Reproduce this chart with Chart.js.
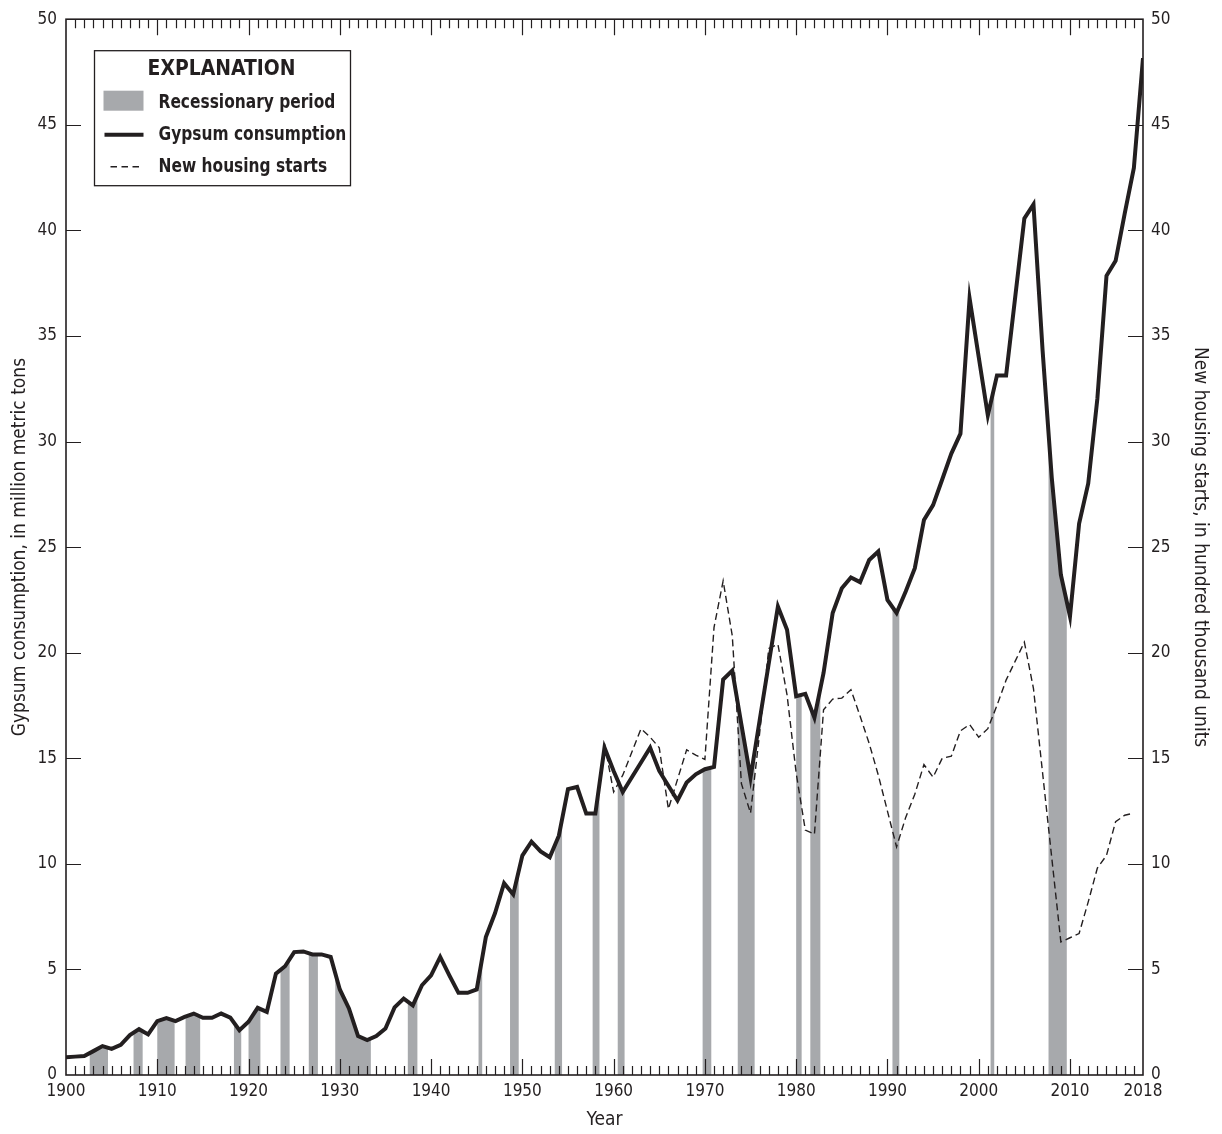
<!DOCTYPE html>
<html>
<head>
<meta charset="utf-8">
<script src="https://cdn.jsdelivr.net/npm/chart.js@4.4.0/dist/chart.umd.min.js"></script>
<style>
html,body{margin:0;padding:0;background:#fff;}
canvas{display:block;}
</style>
</head>
<body>
<canvas id="c" width="1222" height="1134"></canvas>
<script>
// ---------- DATA ----------
const gypsumYears = [
1900,1901,1902,1903,1904,1905,1906,1907,1908,1909,
1910,1911,1912,1913,1914,1915,1916,1917,1918,1919,
1920,1921,1922,1923,1924,1925,1926,1927,1928,1929,
1930,1931,1932,1933,1934,1935,1936,1937,1938,1939,
1940,1941,1942,1943,1944,1945,1946,1947,1948,1949,
1950,1951,1952,1953,1954,1955,1956,1957,1958,1959,
1960,1961,1962,1963,1964,1965,1966,1967,1968,1969,
1970,1971,1972,1973,1974,1975,1976,1977,1978,1979,
1980,1981,1982,1983,1984,1985,1986,1987,1988,1989,
1990,1991,1992,1993,1994,1995,1996,1997,1998,1999,
2000,2001,2002,2003,2004,2005,2006,2007,2008,2009,
2010,2011,2012,2013,2014,2015,2016,2017,2018];
// million metric tons
const gypsumConsumption = [
0.84,0.87,0.90,1.13,1.37,1.24,1.43,1.89,2.17,1.92,
2.55,2.69,2.55,2.75,2.91,2.71,2.71,2.91,2.72,2.12,
2.52,3.18,2.99,4.80,5.15,5.82,5.85,5.71,5.71,5.59,
4.05,3.15,1.84,1.65,1.84,2.20,3.20,3.62,3.30,4.25,
4.72,5.59,4.72,3.89,3.89,4.05,6.53,7.66,9.08,8.55,
10.39,11.05,10.59,10.31,11.33,13.54,13.64,12.38,12.38,15.50,
14.40,13.40,14.10,14.80,15.50,14.40,13.70,13.00,13.85,14.24,
14.48,14.59,18.73,19.15,16.60,14.09,16.80,19.50,22.19,21.09,
17.94,18.05,16.92,19.04,21.88,23.05,23.56,23.34,24.39,24.79,
22.50,21.88,22.90,24.00,26.28,26.99,28.20,29.43,30.37,36.78,
34.00,31.24,33.13,33.13,36.84,40.56,41.23,34.30,28.30,23.69,
21.72,26.12,28.01,32.03,37.85,38.56,40.80,42.96,48.16];

const housingYears = [
1959,1960,1961,1962,1963,1964,1965,1966,1967,1968,1969,
1970,1971,1972,1973,1974,1975,1976,1977,1978,1979,
1980,1981,1982,1983,1984,1985,1986,1987,1988,1989,
1990,1991,1992,1993,1994,1995,1996,1997,1998,1999,
2000,2001,2002,2003,2004,2005,2006,2007,2008,2009,
2010,2011,2012,2013,2014,2015,2016,2017];
// hundred thousand units
const housingStarts = [
15.69,13.40,14.20,15.30,16.40,16.00,15.50,12.60,14.00,15.40,15.15,
14.95,21.20,23.40,20.80,13.80,12.40,16.20,20.20,20.40,18.00,
14.30,11.60,11.40,17.30,17.80,17.85,18.25,17.00,15.70,14.20,
12.50,10.80,12.20,13.30,14.70,14.10,15.00,15.10,16.30,16.60,
16.00,16.40,17.50,18.70,19.60,20.50,18.30,14.30,10.30,6.30,
6.50,6.70,8.20,9.80,10.40,12.00,12.30,12.40];

// recessionary periods (decimal years)
const recessionStart = [1902.6,1907.4,1910.0,1913.1,1918.4,1920.0,1923.5,1926.6,1929.5,1937.45,1945.2,1948.65,1953.55,1957.7,1960.45,1969.75,1973.6,1980.0,1981.55,1990.55,2001.3,2007.65];
const recessionEnd   = [1904.6,1908.4,1911.9,1914.7,1919.2,1921.3,1924.5,1927.6,1933.4,1938.5,1945.6,1949.6,1954.35,1958.45,1961.2,1970.7,1975.45,1980.6,1982.65,1991.3,2001.7,2009.65];

const xTickLabels = [1900,1910,1920,1930,1940,1950,1960,1970,1980,1990,2000,2010,2018];

// ---------- STYLE ----------
const INK = '#231f20';
const GREY = '#a7a9ac';
const FAMILY = "'DejaVu Sans Condensed','Liberation Sans',sans-serif";
Chart.defaults.font.family = FAMILY;
Chart.defaults.color = INK;

const recessionPlugin = {
  id: 'recession',
  beforeDatasetsDraw(chart) {
    const {ctx, chartArea, scales} = chart;
    const x = scales.x, y = scales.y;
    const pts = chart.getDatasetMeta(0).data;
    const y0 = y.getPixelForValue(0);
    ctx.save();
    ctx.fillStyle = GREY;
    for (let i = 0; i < recessionStart.length; i++) {
      const xa = x.getPixelForValue(recessionStart[i]);
      const xb = x.getPixelForValue(recessionEnd[i]);
      ctx.save();
      ctx.beginPath();
      ctx.rect(xa, chartArea.top, xb - xa, chartArea.bottom - chartArea.top);
      ctx.clip();
      ctx.beginPath();
      ctx.moveTo(pts[0].x, y0);
      pts.forEach(p => ctx.lineTo(p.x, p.y));
      ctx.lineTo(pts[pts.length - 1].x, y0);
      ctx.closePath();
      ctx.fill();
      ctx.restore();
    }
    ctx.restore();
  }
};

const framePlugin = {
  id: 'frame',
  afterDatasetsDraw(chart) {
    const {ctx, chartArea: a, scales} = chart;
    const x = scales.x, y = scales.y, y2 = scales.y2;
    ctx.save();
    ctx.strokeStyle = INK;
    ctx.lineWidth = 1.2;
    ctx.beginPath();
    for (let yr = Math.ceil(x.min) + 1; yr < x.max; yr++) {
      const px = Math.round(x.getPixelForValue(yr)) + 0.5;
      const len = (yr % 10 === 0) ? 16 : 9;
      ctx.moveTo(px, a.bottom); ctx.lineTo(px, a.bottom - len);
      ctx.moveTo(px, a.top); ctx.lineTo(px, a.top + len);
    }
    for (let v = 5; v < 50; v += 5) {
      const py = Math.round(y.getPixelForValue(v)) + 0.5;
      ctx.moveTo(a.left, py); ctx.lineTo(a.left + 15, py);
      const py2 = Math.round(y2.getPixelForValue(v)) + 0.5;
      ctx.moveTo(a.right, py2); ctx.lineTo(a.right - 15, py2);
    }
    ctx.stroke();
    ctx.lineWidth = 1.6;
    ctx.strokeRect(a.left, a.top, a.right - a.left, a.bottom - a.top);
    ctx.restore();
  }
};

function squeezedText(ctx, text, x, y, sx) {
  ctx.save();
  ctx.translate(x, y);
  ctx.scale(sx, 1);
  ctx.fillText(text, 0, 0);
  ctx.restore();
}

const legendPlugin = {
  id: 'explanation',
  afterDraw(chart) {
    const {ctx, chartArea: a} = chart;
    const L = a.left + 28.5, T = a.top + 31.5, W = 256, H = 135;
    ctx.save();
    ctx.fillStyle = '#fff';
    ctx.fillRect(L, T, W, H);
    ctx.strokeStyle = INK;
    ctx.lineWidth = 1.3;
    ctx.strokeRect(L, T, W, H);
    ctx.fillStyle = INK;
    ctx.textBaseline = 'middle';
    ctx.textAlign = 'center';
    ctx.font = "bold 22px " + FAMILY;
    squeezedText(ctx, 'EXPLANATION', L + 127, T + 19, 0.95);
    ctx.textAlign = 'left';
    ctx.font = "bold 19.5px " + FAMILY;
    const tx = L + 64;
    // recession swatch
    ctx.fillStyle = GREY;
    ctx.fillRect(L + 9, T + 40, 40, 20);
    ctx.fillStyle = INK;
    squeezedText(ctx, 'Recessionary period', tx, T + 52, 0.88);
    // gypsum swatch
    ctx.lineWidth = 4;
    ctx.beginPath(); ctx.moveTo(L + 10, T + 84); ctx.lineTo(L + 49, T + 84); ctx.stroke();
    squeezedText(ctx, 'Gypsum consumption', tx, T + 84, 0.88);
    // housing swatch
    ctx.lineWidth = 1.5;
    ctx.setLineDash([6.5, 4.5]);
    ctx.beginPath(); ctx.moveTo(L + 16, T + 116); ctx.lineTo(L + 45, T + 116); ctx.stroke();
    ctx.setLineDash([]);
    squeezedText(ctx, 'New housing starts', tx, T + 116, 0.88);
    ctx.restore();
  }
};

const tickFont = {family: FAMILY, size: 17};
const titleFont = {family: FAMILY, size: 19};

new Chart(document.getElementById('c'), {
  type: 'line',
  data: {
    datasets: [
      {
        label: 'Gypsum consumption',
        data: gypsumYears.map((yr, i) => ({x: yr, y: gypsumConsumption[i]})),
        yAxisID: 'y',
        borderColor: INK,
        borderWidth: 4,
        pointRadius: 0,
        tension: 0,
        fill: false,
        borderJoinStyle: 'miter',
        borderCapStyle: 'butt'
      },
      {
        label: 'New housing starts',
        data: housingYears.map((yr, i) => ({x: yr, y: housingStarts[i]})),
        yAxisID: 'y2',
        borderColor: INK,
        borderWidth: 1.4,
        borderDash: [7, 4],
        pointRadius: 0,
        tension: 0,
        fill: false
      }
    ]
  },
  options: {
    responsive: false,
    animation: false,
    devicePixelRatio: 1,
    layout: {padding: {top: 16, left: 0, right: 0, bottom: 0}},
    plugins: {legend: {display: false}, tooltip: {enabled: false}},
    scales: {
      x: {
        type: 'linear', min: 1900, max: 2018, position: 'bottom',
        afterBuildTicks: s => { s.ticks = xTickLabels.map(v => ({value: v})); },
        afterFit: s => { s.height = 59; },
        ticks: {font: tickFont, color: INK, padding: 6, maxRotation: 0, autoSkip: false, callback: v => String(v)},
        grid: {display: false, drawTicks: false},
        border: {display: false},
        title: {display: true, text: 'Year', font: titleFont, color: INK, padding: {top: 0, bottom: 3}}
      },
      y: {
        min: 0, max: 50, position: 'left',
        afterFit: s => { s.width = 66; },
        ticks: {stepSize: 5, font: tickFont, color: INK, padding: 9},
        grid: {display: false, drawTicks: false},
        border: {display: false},
        title: {display: true, text: 'Gypsum consumption, in million metric tons', font: titleFont, color: INK, padding: {top: 9, bottom: 0}}
      },
      y2: {
        min: 0, max: 50, position: 'right',
        afterFit: s => { s.width = 79; },
        ticks: {stepSize: 5, font: tickFont, color: INK, padding: 8},
        grid: {display: false, drawTicks: false},
        border: {display: false},
        title: {display: true, text: 'New housing starts, in hundred thousand units', font: titleFont, color: INK, padding: {top: 11, bottom: 0}}
      }
    }
  },
  plugins: [recessionPlugin, framePlugin, legendPlugin]
});
</script>
</body>
</html>
